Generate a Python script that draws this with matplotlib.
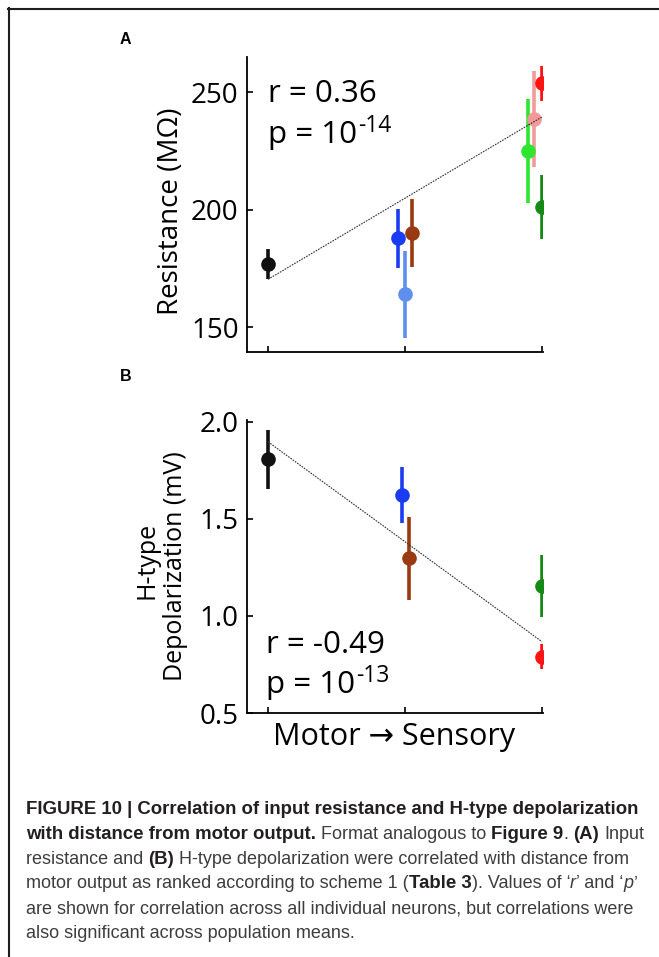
import matplotlib
matplotlib.use("Agg")
import matplotlib.pyplot as plt
from matplotlib.lines import Line2D

# ---- values ----
# A: input resistance (MOhm), neurons ranked motor -> sensory
res_x = [1.0, 1.95, 2.0, 2.05, 2.9, 2.94, 3.0, 3.0]
res_mean = [176.8, 187.7, 163.9, 189.9, 224.9, 238.5, 253.7, 201.1]
res_sem = [6.5, 12.7, 18.6, 14.5, 22.0, 20.6, 7.5, 13.7]
res_colors = ['#111111', '#1a3cf2', '#5f8fee', '#9a3a12',
              '#2ee62e', '#f29a9a', '#ff1414', '#168a16']
res_fit_x = [1, 3]
res_fit_y = [170.3, 239.4]
res_r, res_p = '0.36', '-14'
res_yticks = [150, 200, 250]

# B: H-type depolarization (mV)
hdep_x = [1.0, 1.98, 2.03, 3.0, 3.0]
hdep_mean = [1.806, 1.622, 1.297, 1.154, 0.79]
hdep_sem = [0.15, 0.145, 0.215, 0.16, 0.065]
hdep_colors = ['#111111', '#1a3cf2', '#9a3a12', '#168a16', '#ff1414']
hdep_fit_x = [1, 3]
hdep_fit_y = [1.897, 0.867]
hdep_r, hdep_p = '-0.49', '-13'
hdep_yticks = [0.5, 1.0, 1.5, 2.0]

rank_ticks = [1, 2, 3]

W, H = 659, 957
FONT = ['Open Sans', 'DejaVu Sans']
CAP_FONT = ['Liberation Sans', 'DejaVu Sans']

fig = plt.figure(figsize=(W / 100, H / 100), dpi=100)
renderer = fig.canvas.get_renderer()


def panel(rect, xs, ys, es, cols, fx, fy, ylim, yticks, fmt):
    ax = fig.add_axes(rect)
    for x, y, e, c in zip(xs, ys, es, cols):
        ax.errorbar(x, y, yerr=e, fmt='o', color=c, ms=9.5, mec=c,
                    elinewidth=2.6, capsize=0, zorder=2)
    ax.plot(fx, fy, color='#333333', lw=0.8, ls=(0, (1.5, 1)), zorder=3)
    ax.set_xlim(0.847, 3.007)
    ax.set_ylim(ylim)
    ax.set_xticks(rank_ticks)
    ax.set_xticklabels([])
    ax.set_yticks(yticks)
    ax.set_yticklabels([fmt.format(v) for v in yticks], family=FONT)
    for s in ['top', 'right']:
        ax.spines[s].set_visible(False)
    for s in ['left', 'bottom']:
        ax.spines[s].set_linewidth(1.3)
    ax.tick_params(direction='in', length=4, width=1.2, labelsize=20, pad=6)
    return ax


def stat_text(ax, x, yr, yp, r, p):
    ax.text(x, yr, 'r = ' + r, fontsize=22.5, family=FONT, va='baseline')
    tp = ax.text(x, yp, 'p = 10', fontsize=22.5, family=FONT, va='baseline')
    ax.annotate(p, xy=(1, 0), xycoords=tp, xytext=(1, 13),
                textcoords='offset points', fontsize=16.5, family=FONT,
                va='baseline', ha='left')


axA = panel([247 / W, 1 - 352 / H, 296 / W, 295 / H], res_x, res_mean, res_sem,
            res_colors, res_fit_x, res_fit_y, (139.4, 264.9), res_yticks, '{:d}')
stat_text(axA, 1.0, 245.9, 228.2, res_r, res_p)

axB = panel([247 / W, 1 - 713 / H, 296 / W, 293 / H], hdep_x, hdep_mean, hdep_sem,
            hdep_colors, hdep_fit_x, hdep_fit_y, (0.5, 2.009), hdep_yticks, '{:.1f}')
stat_text(axB, 0.985, 0.807, 0.601, hdep_r, hdep_p)

# axis labels (rotated about their baseline)
fig.text(178 / W, 1 - 211 / H, 'Resistance (M\u03a9)', rotation=90, rotation_mode='anchor',
         ha='center', va='baseline', fontsize=20, family=FONT)
fig.text(153 / W, 1 - 560 / H, 'H-type', rotation=90, rotation_mode='anchor',
         ha='center', va='baseline', fontsize=18, family=FONT)
fig.text(182 / W, 1 - 566 / H, 'Depolarization (mV)', rotation=90, rotation_mode='anchor',
         ha='center', va='baseline', fontsize=18, family=FONT)
fig.text(394.5 / W, 1 - 745 / H, 'Motor \u2192 Sensory', ha='center',
         va='baseline', fontsize=22, family=FONT)

# panel letters
fig.text(120 / W, 1 - 44 / H, 'A', fontsize=11.5, fontweight='bold',
         family=CAP_FONT, va='baseline')
fig.text(120 / W, 1 - 381 / H, 'B', fontsize=11.5, fontweight='bold',
         family=CAP_FONT, va='baseline')

# frame lines (top and left)
fig.add_artist(Line2D([8 / W, 1], [1 - 9 / H, 1 - 9 / H], transform=fig.transFigure,
                      lw=1.5, color='#1e1e1e'))
fig.add_artist(Line2D([9 / W, 9 / W], [1 - 8 / H, 0], transform=fig.transFigure,
                      lw=1.5, color='#1e1e1e'))

# caption, written piece by piece so bold / italic can be mixed in one line
N, B, I = ('normal', 'normal'), ('bold', 'normal'), ('normal', 'italic')
cap_lines = [
    [("FIGURE 10 | Correlation of input resistance and H-type depolarization", B)],
    [("with distance from motor output.", B), (" Format analogous to ", N),
     ("Figure 9", B), (". ", N), ("(A)", B), (" Input", N)],
    [("resistance and ", N), ("(B)", B),
     (" H-type depolarization were correlated with distance from", N)],
    [("motor output as ranked according to scheme 1 (", N), ("Table 3", B),
     ("). Values of \u2018", N), ("r", I), ("\u2019 and \u2018", N), ("p", I), ("\u2019", N)],
    [("are shown for correlation across all individual neurons, but correlations were", N)],
    [("also significant across population means.", N)],
]
cap_colors = {'bold': '#231f20', 'normal': '#3d3d3d'}


def text_w(s, st, size):
    t = fig.text(0, 0, s, fontsize=size, fontweight=st[0], fontstyle=st[1], family=CAP_FONT)
    w = t.get_window_extent(renderer).width
    t.remove()
    return w


fs_b = 11.0
fs_b = fs_b * 616 / text_w(cap_lines[0][0][0], B, fs_b)
fs_n = fs_b * 0.968
sizes = {N: fs_n, B: fs_b, I: fs_n}
space_w = {st: text_w('a a', st, sizes[st]) - text_w('aa', st, sizes[st]) for st in (N, B, I)}

for i, segs in enumerate(cap_lines):
    base = 814 + i * 24.8
    x = 26
    for s, st in segs:
        core = s.strip(' ')
        lead = len(s) - len(s.lstrip(' '))
        trail = len(s) - len(s.rstrip(' '))
        x += lead * space_w[st]
        t = fig.text(x / W, 1 - base / H, core, fontsize=sizes[st], fontweight=st[0],
                     fontstyle=st[1], family=CAP_FONT, va='baseline',
                     color=cap_colors[st[0]])
        x += t.get_window_extent(renderer).width + trail * space_w[st]

fig.savefig('out.png', dpi=100, facecolor='white')
